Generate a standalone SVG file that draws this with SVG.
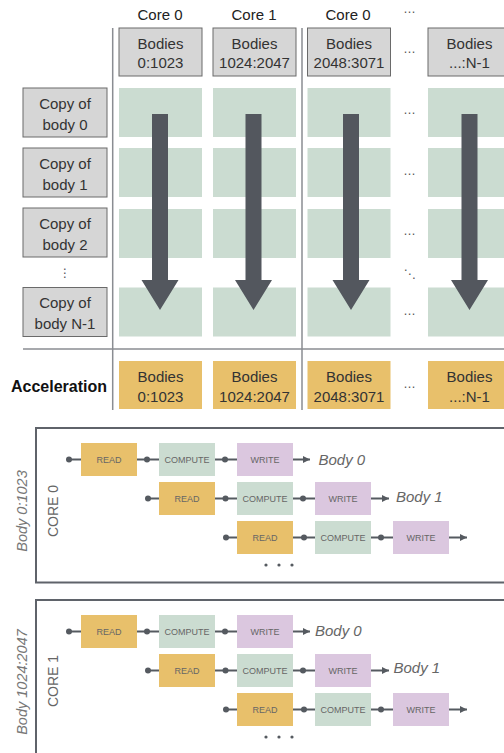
<svg xmlns="http://www.w3.org/2000/svg" width="504" height="753" viewBox="0 0 504 753">
<defs>
<marker id="ah" markerWidth="8" markerHeight="8" refX="7" refY="3.5" orient="auto" markerUnits="userSpaceOnUse">
<path d="M0,0 L7,3.5 L0,7 Z" fill="#555a60"/>
</marker>
<style>
text{font-family:"Liberation Sans",Arial,sans-serif;}
.hdr{font-size:15px;fill:#222;text-anchor:middle;}
.bx{font-size:15px;fill:#333;text-anchor:middle;}
.gray{fill:#d6d6d6;stroke:#6a6a6a;stroke-width:1;}
.green{fill:#cbdcd1;}
.orange{fill:#e8c06b;}
.purple{fill:#dbc7df;}
.el{font-size:12px;fill:#555;text-anchor:middle;font-family:"DejaVu Sans","Liberation Sans",sans-serif;}
.pl{font-size:9px;fill:#666;text-anchor:middle;}
.it{font-size:15px;fill:#666;font-style:italic;}
.rot{font-size:14.5px;fill:#777;font-style:italic;text-anchor:middle;}
.core{font-size:14px;fill:#666;text-anchor:middle;}
.ln{stroke:#555a60;stroke-width:2;fill:none;}
.dot{fill:#555a60;}
.grid{stroke:#8a8d92;stroke-width:1.5;}
.frame{fill:none;stroke:#5f636a;stroke-width:2;}
.big{fill:#53575e;}
</style>
</defs>
<rect width="504" height="753" fill="#fff"/>

<!-- headers -->
<g id="headers">
<text class="hdr" x="160" y="19.5">Core 0</text>
<text class="hdr" x="254" y="19.5">Core 1</text>
<text class="hdr" x="348" y="19.5">Core 0</text>
<text class="el" x="409.5" y="13">…</text>
</g>

<!-- grid lines -->
<g id="gridlines">
<line class="grid" x1="112.7" y1="28" x2="112.7" y2="410"/>
<line class="grid" x1="302" y1="28" x2="302" y2="410"/>
<line class="grid" x1="23" y1="349" x2="504" y2="349"/>
</g>

<!-- top body boxes -->
<g id="bodies-0-1023"><rect class="gray" x="119" y="28" width="83" height="48"/><text class="bx" x="160.5" y="49">Bodies</text><text class="bx" x="160.5" y="68">0:1023</text></g>
<g id="bodies-1024-2047"><rect class="gray" x="213" y="28" width="83" height="48"/><text class="bx" x="254.5" y="49">Bodies</text><text class="bx" x="254.5" y="68">1024:2047</text></g>
<g id="bodies-2048-3071"><rect class="gray" x="307.5" y="28" width="83" height="48"/><text class="bx" x="349" y="49">Bodies</text><text class="bx" x="349" y="68">2048:3071</text></g>
<g id="bodies-N-1"><rect class="gray" x="428" y="28" width="83" height="48"/><text class="bx" x="469.5" y="49">Bodies</text><text class="bx" x="469.5" y="68">...:N-1</text></g>
<text class="el" x="409.5" y="53">…</text>

<!-- copy boxes -->
<g id="copy-0"><rect class="gray" x="23" y="88" width="84" height="49"/><text class="bx" x="65" y="108.5">Copy of</text><text class="bx" x="65" y="129.5">body 0</text></g>
<g id="copy-1"><rect class="gray" x="23" y="148" width="84" height="49"/><text class="bx" x="65" y="168.5">Copy of</text><text class="bx" x="65" y="189.5">body 1</text></g>
<g id="copy-2"><rect class="gray" x="23" y="208" width="84" height="49"/><text class="bx" x="65" y="228.5">Copy of</text><text class="bx" x="65" y="249.5">body 2</text></g>
<text class="el" x="65" y="277">⋮</text>
<g id="copy-N-1"><rect class="gray" x="23" y="287.5" width="84" height="49"/><text class="bx" x="65" y="308">Copy of</text><text class="bx" x="65" y="329">body N-1</text></g>

<!-- green cells -->
<g id="cells">
<rect class="green" x="119" y="88" width="83" height="49"/>
<rect class="green" x="213" y="88" width="83" height="49"/>
<rect class="green" x="307.5" y="88" width="83" height="49"/>
<rect class="green" x="428" y="88" width="83" height="49"/>
<rect class="green" x="119" y="148" width="83" height="49"/>
<rect class="green" x="213" y="148" width="83" height="49"/>
<rect class="green" x="307.5" y="148" width="83" height="49"/>
<rect class="green" x="428" y="148" width="83" height="49"/>
<rect class="green" x="119" y="209" width="83" height="49"/>
<rect class="green" x="213" y="209" width="83" height="49"/>
<rect class="green" x="307.5" y="209" width="83" height="49"/>
<rect class="green" x="428" y="209" width="83" height="49"/>
<rect class="green" x="119" y="287.5" width="83" height="49"/>
<rect class="green" x="213" y="287.5" width="83" height="49"/>
<rect class="green" x="307.5" y="287.5" width="83" height="49"/>
<rect class="green" x="428" y="287.5" width="83" height="49"/>
</g>
<g id="grid-ellipses">
<text class="el" x="409.5" y="114">…</text>
<text class="el" x="409.5" y="174.5">…</text>
<text class="el" x="409.5" y="234.5">…</text>
<text class="el" x="409.5" y="278">⋱</text>
<text class="el" x="409.5" y="314.5">…</text>
<text class="el" x="409.5" y="388">…</text>
</g>

<!-- big arrows -->
<g id="big-arrows">
<path class="big" d="M152,114 H168 V280 H178.5 L160,310 L141.5,280 H152 Z"/>
<path class="big" d="M245.5,114 H261.5 V280 H272 L253.5,310 L235,280 H245.5 Z"/>
<path class="big" d="M343,114 H359 V280 H369.5 L351,310 L332.5,280 H343 Z"/>
<path class="big" d="M461.5,114 H477.5 V280 H488 L469.5,310 L451,280 H461.5 Z"/>
</g>

<!-- acceleration -->
<text x="107" y="391.5" font-size="16" font-weight="bold" fill="#111" text-anchor="end" style="font-family:'Liberation Sans',Arial,sans-serif">Acceleration</text>
<g id="acc-0-1023"><rect class="orange" x="119" y="361" width="83" height="48"/><text class="bx" x="160.5" y="381.5">Bodies</text><text class="bx" x="160.5" y="402">0:1023</text></g>
<g id="acc-1024-2047"><rect class="orange" x="213" y="361" width="83" height="48"/><text class="bx" x="254.5" y="381.5">Bodies</text><text class="bx" x="254.5" y="402">1024:2047</text></g>
<g id="acc-2048-3071"><rect class="orange" x="307.5" y="361" width="83" height="48"/><text class="bx" x="349" y="381.5">Bodies</text><text class="bx" x="349" y="402">2048:3071</text></g>
<g id="acc-N-1"><rect class="orange" x="428" y="361" width="83" height="48"/><text class="bx" x="469.5" y="381.5">Bodies</text><text class="bx" x="469.5" y="402">...:N-1</text></g>

<!-- pipeline section 1 -->
<g id="core0-frame">
<rect class="frame" x="36" y="428" width="520" height="154.5"/>
<text class="rot" transform="translate(27,511) rotate(-90)">Body 0:1023</text>
<text class="core" transform="translate(58,511) rotate(-90)">CORE 0</text>
</g>
<g id="core0-connectors">
<line class="ln" x1="69" y1="459.5" x2="81" y2="459.5"/>
<line class="ln" x1="137" y1="459.5" x2="159" y2="459.5"/>
<line class="ln" x1="215" y1="459.5" x2="237" y2="459.5"/>
<line class="ln" x1="293" y1="459.5" x2="310" y2="459.5" marker-end="url(#ah)"/>
<circle class="dot" cx="69" cy="459.5" r="3"/><circle class="dot" cx="147" cy="459.5" r="3"/><circle class="dot" cx="225" cy="459.5" r="3"/>
<line class="ln" x1="148" y1="498.5" x2="159" y2="498.5"/>
<line class="ln" x1="215" y1="498.5" x2="237" y2="498.5"/>
<line class="ln" x1="293" y1="498.5" x2="315" y2="498.5"/>
<line class="ln" x1="371" y1="498.5" x2="389" y2="498.5" marker-end="url(#ah)"/>
<circle class="dot" cx="148" cy="498.5" r="3"/><circle class="dot" cx="225.5" cy="498.5" r="3"/><circle class="dot" cx="303" cy="498.5" r="3"/>
<line class="ln" x1="226" y1="537.5" x2="237" y2="537.5"/>
<line class="ln" x1="293" y1="537.5" x2="315" y2="537.5"/>
<line class="ln" x1="371" y1="537.5" x2="393" y2="537.5"/>
<line class="ln" x1="449" y1="537.5" x2="467" y2="537.5" marker-end="url(#ah)"/>
<circle class="dot" cx="226" cy="537.5" r="3"/><circle class="dot" cx="304" cy="537.5" r="3"/><circle class="dot" cx="381" cy="537.5" r="3"/>
</g>
<g id="c0-r1-read"><rect class="orange" x="81" y="443" width="56" height="33"/><text class="pl" x="109" y="462.8">READ</text></g>
<g id="c0-r1-compute"><rect class="green" x="159" y="443" width="56" height="33"/><text class="pl" x="187" y="462.8">COMPUTE</text></g>
<g id="c0-r1-write"><rect class="purple" x="237" y="443" width="56" height="33"/><text class="pl" x="265" y="462.8">WRITE</text></g>
<text class="it" x="318.5" y="464.5">Body 0</text>
<g id="c0-r2-read"><rect class="orange" x="159" y="482" width="56" height="33"/><text class="pl" x="187" y="501.8">READ</text></g>
<g id="c0-r2-compute"><rect class="green" x="237" y="482" width="56" height="33"/><text class="pl" x="265" y="501.8">COMPUTE</text></g>
<g id="c0-r2-write"><rect class="purple" x="315" y="482" width="56" height="33"/><text class="pl" x="343" y="501.8">WRITE</text></g>
<text class="it" x="396" y="502">Body 1</text>
<g id="c0-r3-read"><rect class="orange" x="237" y="521" width="56" height="33"/><text class="pl" x="265" y="540.8">READ</text></g>
<g id="c0-r3-compute"><rect class="green" x="315" y="521" width="56" height="33"/><text class="pl" x="343" y="540.8">COMPUTE</text></g>
<g id="c0-r3-write"><rect class="purple" x="393" y="521" width="56" height="33"/><text class="pl" x="421" y="540.8">WRITE</text></g>
<g id="c0-more"><circle class="dot" cx="266" cy="565" r="1.6"/><circle class="dot" cx="279" cy="565" r="1.6"/><circle class="dot" cx="292" cy="565" r="1.6"/></g>

<!-- pipeline section 2 -->
<g id="core1-frame">
<rect class="frame" x="36" y="600" width="520" height="200"/>
<text class="rot" transform="translate(27,682) rotate(-90)">Body 1024:2047</text>
<text class="core" transform="translate(58,681) rotate(-90)">CORE 1</text>
</g>
<g id="core1-connectors">
<line class="ln" x1="69" y1="631.5" x2="81" y2="631.5"/>
<line class="ln" x1="137" y1="631.5" x2="159" y2="631.5"/>
<line class="ln" x1="215" y1="631.5" x2="237" y2="631.5"/>
<line class="ln" x1="293" y1="631.5" x2="310" y2="631.5" marker-end="url(#ah)"/>
<circle class="dot" cx="69" cy="631.5" r="3"/><circle class="dot" cx="147" cy="631.5" r="3"/><circle class="dot" cx="225" cy="631.5" r="3"/>
<line class="ln" x1="148" y1="670.5" x2="159" y2="670.5"/>
<line class="ln" x1="215" y1="670.5" x2="237" y2="670.5"/>
<line class="ln" x1="293" y1="670.5" x2="315" y2="670.5"/>
<line class="ln" x1="371" y1="670.5" x2="389" y2="670.5" marker-end="url(#ah)"/>
<circle class="dot" cx="148" cy="670.5" r="3"/><circle class="dot" cx="225.5" cy="670.5" r="3"/><circle class="dot" cx="303" cy="670.5" r="3"/>
<line class="ln" x1="226" y1="709.5" x2="237" y2="709.5"/>
<line class="ln" x1="293" y1="709.5" x2="315" y2="709.5"/>
<line class="ln" x1="371" y1="709.5" x2="393" y2="709.5"/>
<line class="ln" x1="449" y1="709.5" x2="467" y2="709.5" marker-end="url(#ah)"/>
<circle class="dot" cx="226" cy="709.5" r="3"/><circle class="dot" cx="304" cy="709.5" r="3"/><circle class="dot" cx="381" cy="709.5" r="3"/>
</g>
<g id="c1-r1-read"><rect class="orange" x="81" y="615" width="56" height="33"/><text class="pl" x="109" y="634.8">READ</text></g>
<g id="c1-r1-compute"><rect class="green" x="159" y="615" width="56" height="33"/><text class="pl" x="187" y="634.8">COMPUTE</text></g>
<g id="c1-r1-write"><rect class="purple" x="237" y="615" width="56" height="33"/><text class="pl" x="265" y="634.8">WRITE</text></g>
<text class="it" x="315" y="635.5">Body 0</text>
<g id="c1-r2-read"><rect class="orange" x="159" y="654" width="56" height="33"/><text class="pl" x="187" y="673.8">READ</text></g>
<g id="c1-r2-compute"><rect class="green" x="237" y="654" width="56" height="33"/><text class="pl" x="265" y="673.8">COMPUTE</text></g>
<g id="c1-r2-write"><rect class="purple" x="315" y="654" width="56" height="33"/><text class="pl" x="343" y="673.8">WRITE</text></g>
<text class="it" x="393.5" y="672.5">Body 1</text>
<g id="c1-r3-read"><rect class="orange" x="237" y="693" width="56" height="33"/><text class="pl" x="265" y="712.8">READ</text></g>
<g id="c1-r3-compute"><rect class="green" x="315" y="693" width="56" height="33"/><text class="pl" x="343" y="712.8">COMPUTE</text></g>
<g id="c1-r3-write"><rect class="purple" x="393" y="693" width="56" height="33"/><text class="pl" x="421" y="712.8">WRITE</text></g>
<g id="c1-more"><circle class="dot" cx="266" cy="737" r="1.6"/><circle class="dot" cx="279" cy="737" r="1.6"/><circle class="dot" cx="292" cy="737" r="1.6"/></g>
</svg>
